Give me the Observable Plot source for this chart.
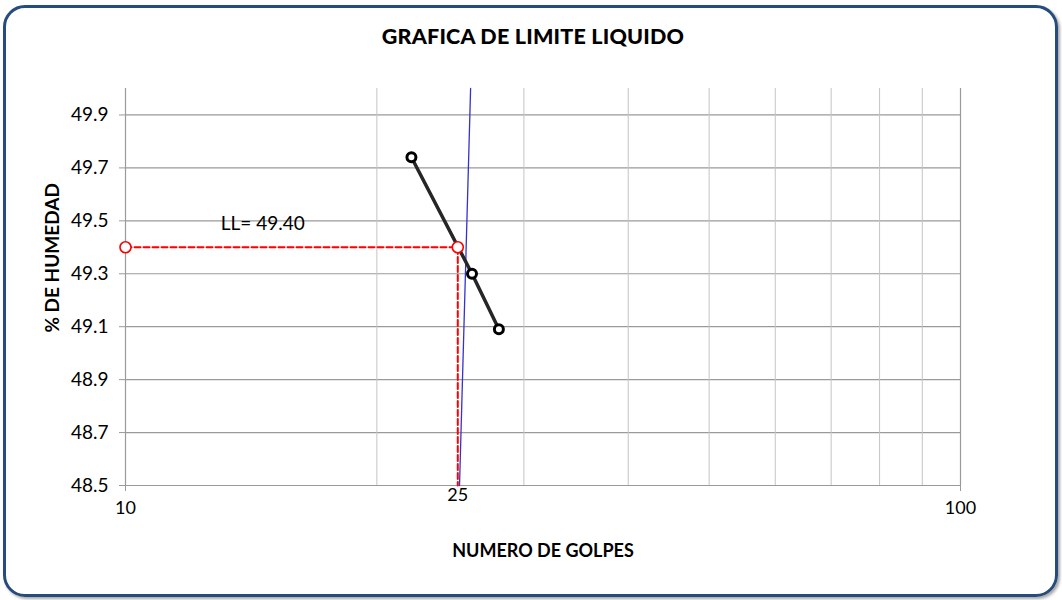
<!DOCTYPE html>
<html>
<head>
<meta charset="utf-8">
<script src="https://cdn.jsdelivr.net/npm/d3@7"></script>
<script src="https://cdn.jsdelivr.net/npm/@observablehq/plot@0.6"></script>
<style>
  html, body { margin: 0; padding: 0; background: #fff; }
  #wrap { position: relative; width: 1062px; height: 600px; overflow: hidden; font-family: Lato, "DejaVu Sans", sans-serif; }
  #frame { position: absolute; left: 3px; top: 5px; width: 1049px; height: 586px; border: 3px solid #264b7d; border-radius: 22px; box-shadow: 2px 2px 3px rgba(0,0,0,0.35); }
  #title { position: absolute; left: 0; width: 1066px; top: 23px; text-align: center; font-weight: 900; font-size: 21.5px; color: #000; letter-spacing: 0.2px; }
  #chart { position: absolute; left: 0; top: 0; }
</style>
</head>
<body>
<div id="wrap">
  <div id="frame"></div>
  <div id="chart"></div>
  <div id="title">GRAFICA DE LIMITE LIQUIDO</div>
</div>
<script>
// Data
const golpes = [22, 26, 28];
const humedad = [49.74, 49.30, 49.09];
const llGolpes = 25;
const llValue = 49.40;
const trendGolpes = [25.12, 25.9];
const trendHumedad = [48.5, 50.0];
const yTicks = [48.5, 48.7, 48.9, 49.1, 49.3, 49.5, 49.7, 49.9];
const xGrid = [20, 30, 40, 50, 60, 70, 80, 90, 100];
const xTicks = [10, 100];

const points = golpes.map((g, i) => ({g, h: humedad[i]}));
const llPath = [{g: 10, h: llValue}, {g: llGolpes, h: llValue}, {g: llGolpes, h: 48.5}];
const llDots = [{g: 10, h: llValue}, {g: llGolpes, h: llValue}];
const trend = trendGolpes.map((g, i) => ({g, h: trendHumedad[i]}));

const chart = Plot.plot({
  width: 1062,
  height: 600,
  marginLeft: 125,
  marginRight: 102,
  marginTop: 88,
  marginBottom: 115,
  style: { fontFamily: "Lato, 'DejaVu Sans', sans-serif", background: "transparent", overflow: "visible" },
  x: { type: "log", domain: [10, 100] },
  y: { domain: [48.5, 50.0] },
  marks: [
    Plot.ruleY(yTicks, { stroke: "#9a9a9a", strokeWidth: 1.2 }),
    Plot.ruleX(xGrid, { stroke: "#c4c4c4", strokeWidth: 1 }),
    Plot.ruleX([10], { stroke: "#9a9a9a", strokeWidth: 1.2 }),
    Plot.ruleX([100], { stroke: "#9a9a9a", strokeWidth: 1.2 }),
    Plot.axisY({ ticks: yTicks, tickFormat: d3.format(".1f"), tickSize: 6, tickPadding: 11, stroke: "#9a9a9a", fontSize: 19, color: "#000", label: null }),
    Plot.axisX({ ticks: xTicks, tickFormat: d => String(d), tickSize: 6, tickPadding: 10, stroke: "#9a9a9a", fontSize: 18, color: "#000", label: null }),
    Plot.text(["% DE HUMEDAD"], { x: 10, y: 49.36, dx: -73, rotate: -90, textAnchor: "middle", fontWeight: "bold", fontSize: 19, fill: "#000" }),
    Plot.text(["NUMERO DE GOLPES"], { frameAnchor: "bottom", dy: 71, fontWeight: "bold", fontSize: 18, fill: "#000" }),
    Plot.line(trend, { x: "g", y: "h", stroke: "#3333cc", strokeWidth: 1.3 }),
    Plot.line(llPath, { x: "g", y: "h", stroke: "#ff0000", strokeWidth: 2, strokeDasharray: "6,3" }),
    Plot.line(points, { x: "g", y: "h", stroke: "#262626", strokeWidth: 3.5 }),
    Plot.dot(points, { x: "g", y: "h", r: 4.5, stroke: "#000", strokeWidth: 3, fill: "#fff" }),
    Plot.dot(llDots, { x: "g", y: "h", r: 5.5, stroke: "#ff0000", strokeWidth: 1.6, fill: "#fff" }),
    Plot.text(["LL= 49.40"], { x: 14.6, y: 49.49, fontSize: 19, fill: "#000" }),
    Plot.text(["25"], { x: llGolpes, y: 48.5, dy: 10, fontSize: 18, fill: "#000" })
  ]
});
document.getElementById("chart").appendChild(chart);
</script>
</body>
</html>
